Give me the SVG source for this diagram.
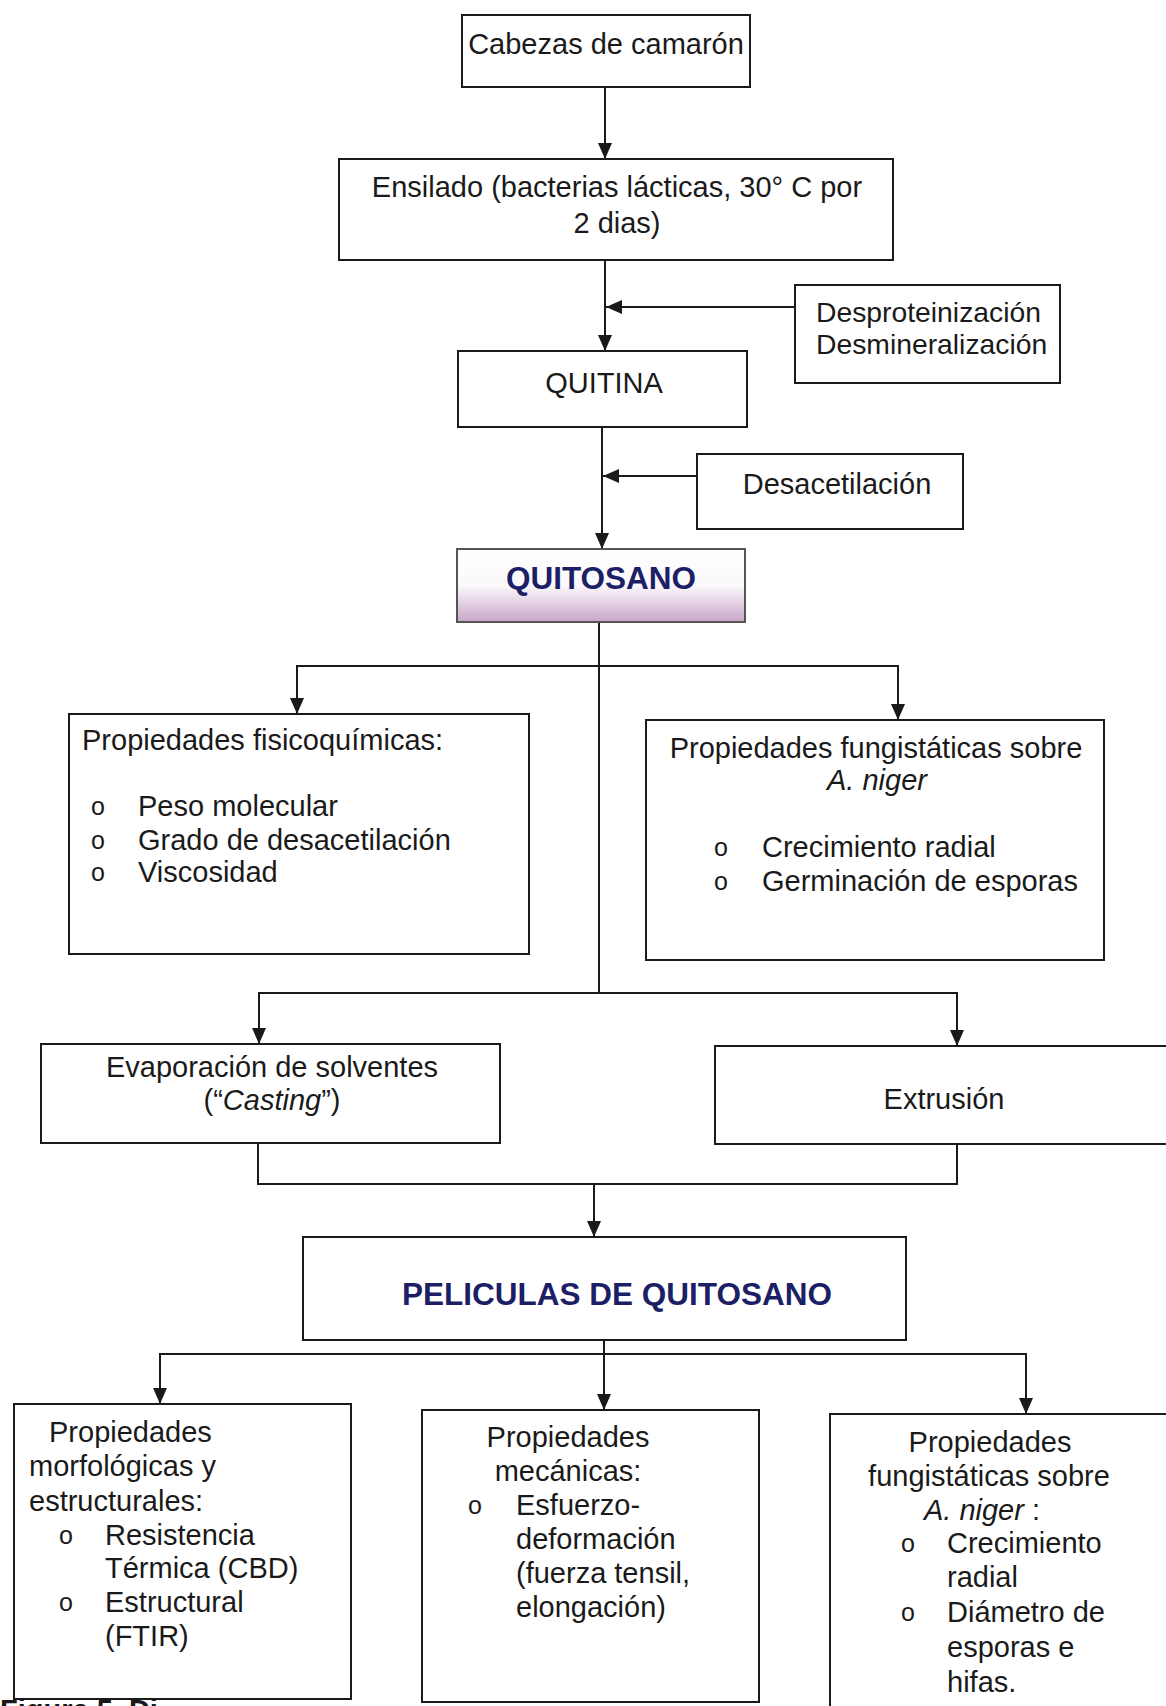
<svg xmlns="http://www.w3.org/2000/svg" width="1166" height="1706" viewBox="0 0 1166 1706">
<style>
.box{fill:#fff;stroke:#1a1a1a;stroke-width:2}
.t{font-family:"Liberation Sans",Arial,sans-serif;font-size:29px;fill:#1a1a1a}
.c{text-anchor:middle}
.s{font-size:28.3px}
.b{font-family:"Liberation Sans",Arial,sans-serif;font-size:31.5px;font-weight:bold;fill:#1c1f66;text-anchor:middle}
.bul{font-family:"Liberation Sans",Arial,sans-serif;font-size:25px;fill:#1a1a1a}
.ln{fill:none;stroke:#1a1a1a;stroke-width:2}
.ar{fill:none;stroke:#1a1a1a;stroke-width:2;marker-end:url(#ah)}
</style>
<defs>
<marker id="ah" markerUnits="userSpaceOnUse" markerWidth="16" markerHeight="18" viewBox="0 0 16 18" refX="16" refY="9" orient="auto">
<path d="M0,2 L16,9 L0,16 Z" fill="#1a1a1a"/>
</marker>
<linearGradient id="gq" x1="0" y1="0" x2="0" y2="1">
<stop offset="0" stop-color="#ffffff"/>
<stop offset="0.5" stop-color="#fbf8fb"/>
<stop offset="1" stop-color="#c8a6c8"/>
</linearGradient>
</defs>
<rect width="1166" height="1706" fill="#fff"/>

<g id="connectors">
<line class="ar" x1="605" y1="87" x2="605" y2="159"/>
<line class="ar" x1="605" y1="260" x2="605" y2="351"/>
<line class="ar" x1="795" y1="307" x2="606" y2="307"/>
<line class="ar" x1="602" y1="427" x2="602" y2="549"/>
<line class="ar" x1="697" y1="476" x2="603" y2="476"/>
<line class="ln" x1="599" y1="622" x2="599" y2="993"/>
<polyline class="ar" points="599,666 297,666 297,714"/>
<polyline class="ar" points="599,666 898,666 898,720"/>
<polyline class="ar" points="599,993 259,993 259,1044"/>
<polyline class="ar" points="599,993 957,993 957,1046"/>
<polyline class="ln" points="258,1143 258,1184 957,1184 957,1144"/>
<line class="ar" x1="594" y1="1184" x2="594" y2="1237"/>
<line class="ln" x1="604" y1="1340" x2="604" y2="1354"/>
<polyline class="ar" points="604,1354 160,1354 160,1404"/>
<polyline class="ar" points="604,1354 1026,1354 1026,1414"/>
<line class="ar" x1="604" y1="1354" x2="604" y2="1410"/>
</g>

<g id="cabezas">
<rect class="box" x="462" y="15" width="288" height="72"/>
<text class="t c" x="606" y="54">Cabezas de camarón</text>
</g>

<g id="ensilado">
<rect class="box" x="339" y="159" width="554" height="101"/>
<text class="t c" x="617" y="197">Ensilado (bacterias lácticas, 30° C por</text>
<text class="t c" x="617" y="233">2 dias)</text>
</g>

<g id="desproteinizacion">
<rect class="box" x="795" y="285" width="265" height="98"/>
<text class="t s" x="816" y="322">Desproteinización</text>
<text class="t s" x="816" y="354">Desmineralización</text>
</g>

<g id="quitina">
<rect class="box" x="458" y="351" width="289" height="76"/>
<text class="t c" x="604" y="393">QUITINA</text>
</g>

<g id="desacetilacion">
<rect class="box" x="697" y="454" width="266" height="75"/>
<text class="t c" x="837" y="494">Desacetilación</text>
</g>

<g id="quitosano">
<rect x="457" y="549" width="288" height="73" fill="url(#gq)" stroke="#555" stroke-width="2"/>
<text class="b" x="601" y="589">QUITOSANO</text>
</g>

<g id="fisicoquimicas">
<rect class="box" x="69" y="714" width="460" height="240"/>
<text class="t" x="82" y="750">Propiedades fisicoquímicas:</text>
<text class="bul" x="91" y="815">o</text>
<text class="t" x="138" y="816">Peso molecular</text>
<text class="bul" x="91" y="849">o</text>
<text class="t" x="138" y="850">Grado de desacetilación</text>
<text class="bul" x="91" y="881">o</text>
<text class="t" x="138" y="882">Viscosidad</text>
</g>

<g id="fungistaticas1">
<rect class="box" x="646" y="720" width="458" height="240"/>
<text class="t c" x="876" y="758">Propiedades fungistáticas sobre</text>
<text class="t c" x="877" y="790" font-style="italic">A. niger</text>
<text class="bul" x="714" y="856">o</text>
<text class="t" x="762" y="857">Crecimiento radial</text>
<text class="bul" x="714" y="890">o</text>
<text class="t" x="762" y="891">Germinación de esporas</text>
</g>

<g id="evaporacion">
<rect class="box" x="41" y="1044" width="459" height="99"/>
<text class="t c" x="272" y="1077">Evaporación de solventes</text>
<text class="t c" x="272" y="1110">(“<tspan font-style="italic">Casting</tspan>”)</text>
</g>

<g id="extrusion">
<rect class="box" x="715" y="1046" width="460" height="98"/>
<text class="t c" x="944" y="1109">Extrusión</text>
</g>

<g id="peliculas">
<rect class="box" x="303" y="1237" width="603" height="103"/>
<text class="b" x="617" y="1305">PELICULAS DE QUITOSANO</text>
</g>

<g id="morfologicas">
<rect class="box" x="14" y="1404" width="337" height="295"/>
<text class="t" x="49" y="1442">Propiedades</text>
<text class="t" x="29" y="1476">morfológicas y</text>
<text class="t" x="29" y="1511">estructurales:</text>
<text class="bul" x="59" y="1544">o</text>
<text class="t" x="105" y="1545">Resistencia</text>
<text class="t" x="105" y="1578">Térmica (CBD)</text>
<text class="bul" x="59" y="1611">o</text>
<text class="t" x="105" y="1612">Estructural</text>
<text class="t" x="105" y="1646">(FTIR)</text>
</g>

<g id="mecanicas">
<rect class="box" x="422" y="1410" width="337" height="292"/>
<text class="t c" x="568" y="1447">Propiedades</text>
<text class="t c" x="568" y="1481">mecánicas:</text>
<text class="bul" x="468" y="1514">o</text>
<text class="t" x="516" y="1515">Esfuerzo-</text>
<text class="t" x="516" y="1549">deformación</text>
<text class="t" x="516" y="1583">(fuerza tensil,</text>
<text class="t" x="516" y="1617">elongación)</text>
</g>

<g id="fungistaticas2">
<rect class="box" x="830" y="1414" width="345" height="300"/>
<text class="t c" x="990" y="1452">Propiedades</text>
<text class="t c" x="989" y="1486">fungistáticas sobre</text>
<text class="t c" x="982" y="1520"><tspan font-style="italic">A. niger</tspan> :</text>
<text class="bul" x="901" y="1552">o</text>
<text class="t" x="947" y="1553">Crecimiento</text>
<text class="t" x="947" y="1587">radial</text>
<text class="bul" x="901" y="1621">o</text>
<text class="t" x="947" y="1622">Diámetro de</text>
<text class="t" x="947" y="1657">esporas e</text>
<text class="t" x="947" y="1692">hifas.</text>
</g>

<text x="0" y="1720" font-family="Liberation Sans, Arial, sans-serif" font-size="29" font-weight="bold" fill="#1a1a1a">Figura 5. Di</text>
</svg>
